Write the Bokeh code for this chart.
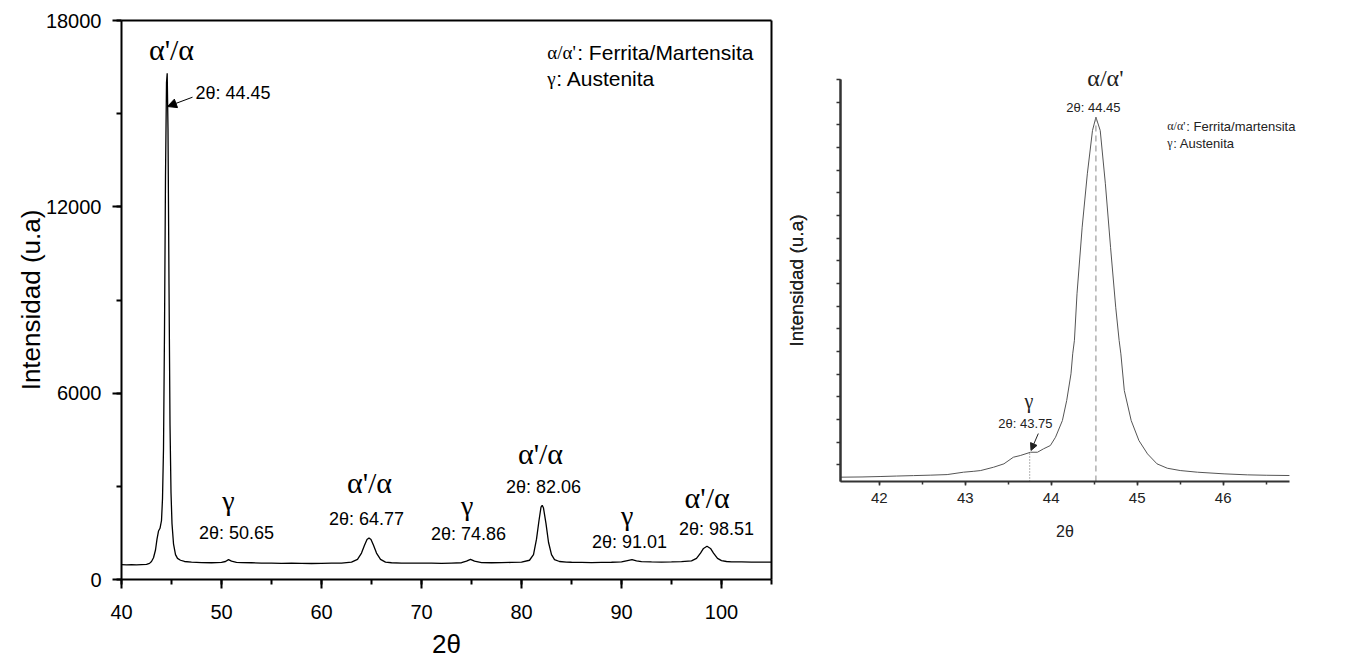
from bokeh.plotting import figure
from bokeh.layouts import row
from bokeh.models import (Label, Arrow, NormalHead, SingleIntervalTicker, FixedTicker,
                          Range1d, LinearAxis)
from bokeh.embed import file_html
from bokeh.resources import INLINE

# ---------------- data ----------------
theta_full = [40.0, 40.5, 41.0, 41.5, 42.0, 42.5, 42.8, 43.0, 43.2, 43.4, 43.55, 43.7, 43.85,
              44.0, 44.1, 44.2, 44.3, 44.4, 44.5, 44.57, 44.65, 44.75, 44.85, 44.95, 45.05,
              45.2, 45.4, 45.6, 45.9, 46.3, 47.0, 48.0, 49.0, 50.0, 50.4, 50.7, 51.0, 51.5,
              52.0, 53.0, 54.0, 55.0, 56.0, 57.0, 58.0, 59.0, 60.0, 61.0, 62.0, 63.0, 63.6,
              64.0, 64.3, 64.55, 64.75, 64.95, 65.2, 65.5, 65.9, 66.4, 67.0, 68.0, 69.0, 70.0,
              71.0, 72.0, 73.0, 74.0, 74.5, 74.9, 75.3, 76.0, 77.0, 78.0, 79.0, 80.0, 80.8,
              81.2, 81.5, 81.75, 81.95, 82.07, 82.2, 82.45, 82.7, 83.0, 83.3, 83.8, 84.5, 85.0,
              86.0, 87.0, 88.0, 89.0, 90.0, 90.6, 91.05, 91.5, 92.0, 93.0, 94.0, 95.0, 96.0,
              97.0, 97.5, 97.9, 98.2, 98.55, 98.9, 99.2, 99.6, 100.0, 100.5, 101.0, 102.0,
              103.0, 104.0, 105.0]
intensity_full = [480, 470, 475, 470, 480, 490, 520, 580, 700, 950, 1300, 1560, 1650,
                  1900, 2600, 4200, 8000, 13000, 16000, 16300, 14500, 9500, 5000, 2800, 1800,
                  1150, 800, 680, 620, 580, 560, 545, 540, 550, 580, 640, 590, 550,
                  545, 540, 530, 525, 520, 530, 520, 515, 520, 525, 530, 560, 650,
                  850, 1100, 1290, 1340, 1290, 1100, 850, 650, 560, 540, 530, 525, 530,
                  525, 520, 530, 540, 590, 650, 590, 545, 540, 545, 550, 560, 620,
                  800, 1300, 1900, 2330, 2390, 2300, 1800, 1200, 800, 640, 580, 560, 555,
                  550, 545, 550, 555, 570, 610, 640, 600, 575, 565, 560, 565, 575,
                  600, 680, 850, 1000, 1070, 1000, 850, 680, 610, 580, 570, 565,
                  560, 560, 560]

theta_zoom = [41.55, 41.8, 42.02, 42.2, 42.4, 42.6, 42.79, 42.98, 43.1, 43.18, 43.33, 43.45,
              43.56, 43.64, 43.76, 43.84, 43.91, 43.99, 44.05, 44.13, 44.18, 44.23, 44.25,
              44.27, 44.30, 44.36, 44.42, 44.48, 44.52, 44.57, 44.63, 44.69, 44.75, 44.79,
              44.81, 44.85, 44.93, 45.02, 45.12, 45.23, 45.35, 45.50, 45.70, 46.01, 46.28,
              46.5, 46.77]
intensity_zoom = [460, 470, 490, 510, 530, 550, 575, 680, 720, 753, 900, 1049,
                  1340, 1415, 1560, 1560, 1710, 1856, 2222, 2958, 3841, 5019, 5900,
                  6500, 8550, 11485, 13840, 15750, 16337, 15750, 13400, 10600, 7956, 6487,
                  5900, 4282, 2958, 2075, 1487, 1049, 855, 753, 680, 607, 563,
                  545, 533]

peak_theta = [44.45, 50.65, 64.77, 74.86, 82.06, 91.01, 98.51]
peak_phase = ["α'/α", "γ", "α'/α", "γ", "α'/α", "γ", "α'/α"]
gamma_zoom_theta = 43.75
alpha_zoom_theta = 44.45

x_title = "2θ"
y_title = "Intensidad (u.a)"
legend_full = [("α/α'", ": Ferrita/Martensita"), ("γ", ": Austenita")]
legend_zoom = [("α/α'", ": Ferrita/martensita"), ("γ", ": Austenita")]

SANS = "Liberation Sans"
SERIF = "Liberation Serif"

H = 660
# ---------------- left figure ----------------
# the frame fills the whole canvas; axes are pinned to the data box [40,105] x [0,18000]
X1 = (40, 105)
Y1 = (0, 18000)
p1 = figure(width=780, height=H, x_range=Range1d(27.9, 105.9), y_range=Range1d(-2608, 18644),
            output_backend="svg", toolbar_location=None, min_border=0,
            min_border_left=0, min_border_right=0, min_border_top=0, min_border_bottom=0)
p1.line(theta_full, intensity_full, line_color="black", line_width=1.3)
p1.grid.visible = False
p1.outline_line_color = None
p1.background_fill_color = "white"
p1.border_fill_color = "white"

p1.xaxis.ticker = SingleIntervalTicker(interval=10, num_minor_ticks=2)
p1.yaxis.ticker = SingleIntervalTicker(interval=6000, num_minor_ticks=2)
p1.xaxis.fixed_location = Y1[0]
p1.xaxis.bounds = X1
p1.yaxis.fixed_location = X1[0]
p1.yaxis.bounds = Y1
for ax in (p1.xaxis, p1.yaxis):
    ax.axis_line_width = 2
    ax.axis_line_color = "black"
    ax.major_tick_line_width = 2
    ax.minor_tick_line_width = 2
    ax.major_tick_in = 0
    ax.minor_tick_in = 0
    ax.major_tick_out = 9
    ax.minor_tick_out = 5
    ax.major_label_text_font = SANS
    ax.major_label_text_font_size = "20px"
    ax.major_label_text_color = "black"
    ax.axis_label_text_font = SANS
    ax.axis_label_text_font_size = "26px"
    ax.axis_label_text_font_style = "normal"
    ax.axis_label_text_color = "black"
p1.xaxis.axis_label = x_title
p1.yaxis.axis_label = y_title
p1.xaxis.major_label_standoff = 16
p1.xaxis.axis_label_standoff = 7
p1.yaxis.major_label_standoff = 11
p1.yaxis.axis_label_standoff = -3

# box lines on top and right
top_ax = LinearAxis(ticker=FixedTicker(ticks=[]), axis_line_width=2, axis_line_color="black",
                    fixed_location=Y1[1], bounds=X1, major_label_text_font_size="12px")
right_ax = LinearAxis(ticker=FixedTicker(ticks=[]), axis_line_width=2, axis_line_color="black",
                      fixed_location=X1[1], bounds=Y1, major_label_text_font_size="12px")
p1.add_layout(top_ax, "above")
p1.add_layout(right_ax, "right")

phase_pos = [(45.0, 17066, 30), (50.7, 2550, 28), (64.8, 3133, 30), (74.57, 2380, 28),
             (81.9, 4057, 30), (90.57, 2060, 28), (98.57, 2650, 30)]
theta_pos = [None, (51.5, 1491), (64.5, 1964), (74.7, 1481), (82.2, 2972), (90.8, 1201), (99.5, 1642)]
for i, (t, ph) in enumerate(zip(peak_theta, peak_phase)):
    x, y, fs = phase_pos[i]
    p1.add_layout(Label(x=x, y=y, text=ph, text_font=SERIF, text_font_size=f"{fs}px",
                        text_align="center", text_baseline="middle", text_color="black"))
    if theta_pos[i] is not None:
        tx, ty = theta_pos[i]
        p1.add_layout(Label(x=tx, y=ty, text=f"2θ: {t:.2f}", text_font=SANS,
                            text_font_size="18px", text_align="center",
                            text_baseline="middle", text_color="black"))
p1.add_layout(Label(x=47.4, y=15681, text=f"2θ: {peak_theta[0]:.2f}", text_font=SANS,
                    text_font_size="18px", text_align="left", text_baseline="middle",
                    text_color="black"))
p1.add_layout(Arrow(x_start=47.1, y_start=15530, x_end=44.6, y_end=15230,
                    line_color="black", line_width=1,
                    end=NormalHead(size=9, fill_color="black", line_color="black")))
for j, (g, rest) in enumerate(legend_full):
    yy = 16980 - j * 860
    p1.add_layout(Label(x=82.57, y=yy, text=g, text_font=SERIF, text_font_size="19px",
                        text_align="left", text_baseline="middle", text_color="black"))
    p1.add_layout(Label(x=82.57, y=yy, x_offset=30 if j == 0 else 9, text=rest, text_font=SANS,
                        text_font_size="21px", text_align="left", text_baseline="middle",
                        text_color="black"))

# ---------------- right figure ----------------
GREY = "#555555"
X2 = (41.55, 46.77)
Y2 = (270, 18000)
p2 = figure(width=560, height=H, x_range=Range1d(40.852, 47.364), y_range=Range1d(-7625, 21484),
            output_backend="svg", toolbar_location=None, min_border=0,
            min_border_left=0, min_border_right=0, min_border_top=0, min_border_bottom=0)
p2.line(theta_zoom, intensity_zoom, line_color=GREY, line_width=1)
imax = max(range(len(intensity_zoom)), key=lambda k: intensity_zoom[k])
p2.segment(x0=[theta_zoom[imax]], y0=[Y2[0]], x1=[theta_zoom[imax]], y1=[intensity_zoom[imax]],
           line_color="#888888", line_width=1, line_dash="6 4")
ig = min(range(len(theta_zoom)), key=lambda k: abs(theta_zoom[k] - gamma_zoom_theta))
p2.segment(x0=[gamma_zoom_theta], y0=[Y2[0]], x1=[gamma_zoom_theta], y1=[intensity_zoom[ig]],
           line_color="#666666", line_width=1, line_dash="1 2")
p2.grid.visible = False
p2.outline_line_color = None
p2.background_fill_color = "white"
p2.border_fill_color = "white"

p2.xaxis.ticker = SingleIntervalTicker(interval=1, num_minor_ticks=2)
p2.xaxis.fixed_location = Y2[0]
p2.xaxis.bounds = X2
# y axis: short ticks every odd 1000, long ticks every 2000, no numbers
p2.yaxis.ticker = FixedTicker(ticks=[], minor_ticks=list(range(1000, 18000, 2000)))
p2.yaxis.fixed_location = X2[0]
p2.yaxis.bounds = Y2
long_ticks = LinearAxis(ticker=FixedTicker(ticks=[], minor_ticks=list(range(2000, 18001, 2000))),
                        fixed_location=X2[0], bounds=Y2,
                        axis_line_color=None, minor_tick_line_color="#333333",
                        minor_tick_line_width=1.5, minor_tick_in=0, minor_tick_out=7,
                        major_label_text_font_size="12px")
p2.add_layout(long_ticks, "left")
for ax in (p2.xaxis, p2.yaxis):
    ax.axis_line_width = 2
    ax.axis_line_color = "#333333"
    ax.major_tick_line_color = "#333333"
    ax.minor_tick_line_color = "#333333"
    ax.major_tick_line_width = 1.5
    ax.minor_tick_line_width = 1.5
    ax.major_tick_in = 0
    ax.minor_tick_in = 0
    ax.major_label_text_font = SANS
    ax.major_label_text_color = "#222222"
    ax.axis_label_text_font = SANS
    ax.axis_label_text_font_style = "normal"
    ax.axis_label_text_color = "#222222"
p2.xaxis.major_tick_out = 4
p2.xaxis.minor_tick_out = 3
p2.yaxis.minor_tick_out = 4
p2.xaxis.major_label_text_font_size = "15px"
p2.xaxis.axis_label_text_font_size = "16px"
p2.yaxis.axis_label_text_font_size = "19px"
p2.xaxis.axis_label = x_title
p2.yaxis.axis_label = y_title
p2.xaxis.major_label_standoff = 8
p2.xaxis.axis_label_standoff = 16
p2.yaxis.axis_label_standoff = 30

p2.add_layout(Label(x=44.63, y=18057, text="α/α'", text_font=SERIF, text_font_size="24px",
                    text_align="center", text_baseline="middle", text_color="#222222"))
p2.add_layout(Label(x=44.49, y=16778, text=f"2θ: {alpha_zoom_theta:.2f}", text_font=SANS,
                    text_font_size="13px", text_align="center", text_baseline="middle",
                    text_color="#222222"))
p2.add_layout(Label(x=43.74, y=3841, text="γ", text_font=SERIF, text_font_size="20px",
                    text_align="center", text_baseline="middle", text_color="#222222"))
p2.add_layout(Label(x=43.70, y=2826, text=f"2θ: {gamma_zoom_theta:.2f}", text_font=SANS,
                    text_font_size="13px", text_align="center", text_baseline="middle",
                    text_color="#222222"))
p2.add_layout(Arrow(x_start=43.85, y_start=2385, x_end=43.765, y_end=1640,
                    line_color="#222222", line_width=1,
                    end=NormalHead(size=7, fill_color="#222222", line_color="#222222")))
for j, (g, rest) in enumerate(legend_zoom):
    yy = 15940 - j * 750
    p2.add_layout(Label(x=45.35, y=yy, text=g, text_font=SERIF, text_font_size="12px",
                        text_align="left", text_baseline="middle", text_color="#222222"))
    p2.add_layout(Label(x=45.35, y=yy, x_offset=19 if j == 0 else 6, text=rest, text_font=SANS,
                        text_font_size="13px", text_align="left", text_baseline="middle",
                        text_color="#222222"))

layout = row(p1, p2)
open("out.html", "w").write(file_html(layout, INLINE))
